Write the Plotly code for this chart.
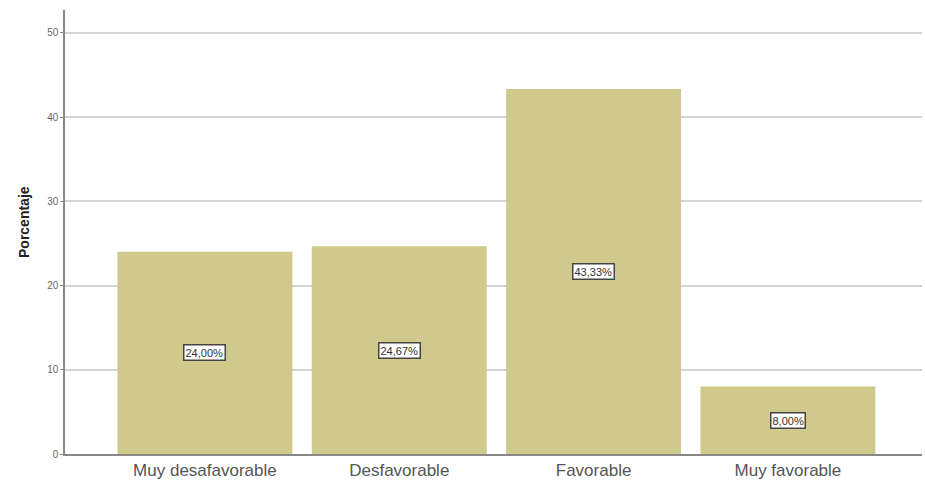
import plotly.graph_objects as go

categorias = ["Muy desafavorable", "Desfavorable", "Favorable", "Muy favorable"]
porcentajes = [24.00, 24.67, 43.33, 8.00]
etiquetas = ["24,00%", "24,67%", "43,33%", "8,00%"]

fig = go.Figure()
fig.add_trace(go.Bar(
    x=categorias,
    y=porcentajes,
    marker=dict(color="#CFC98B", line=dict(width=0)),
    hoverinfo="skip",
))

# Value labels in boxed callouts at half bar height
for cat, val, txt in zip(categorias, porcentajes, etiquetas):
    fig.add_annotation(
        x=cat, y=val / 2, text=txt, showarrow=False,
        font=dict(family="Liberation Sans, Arial", size=11, color="#333"),
        bgcolor="white", bordercolor="#444", borderwidth=1.5, borderpad=1,
    )

# Y axis title
fig.add_annotation(
    x=0, xref="paper", y=0.5, yref="paper", xshift=-51, yshift=10,
    text="<b>Porcentaje</b>", textangle=-90, showarrow=False,
    font=dict(family="Liberation Sans, Arial", size=14, color="#222"),
)

fig.update_layout(
    width=925, height=482,
    margin=dict(l=65, r=3, t=10, b=28),
    plot_bgcolor="white", paper_bgcolor="white",
    bargap=0.1,
    showlegend=False,
    font=dict(family="Liberation Sans, Arial"),
)
fig.update_xaxes(
    range=[-0.72, 3.69],
    showline=True, linecolor="#888", linewidth=1.5,
    showgrid=False,
    tickfont=dict(size=17, color="#555"),
    ticks="",
)
fig.update_yaxes(
    range=[0, 52.7],
    tickvals=[0, 10, 20, 30, 40, 50],
    showline=True, linecolor="#888", linewidth=1.5,
    showgrid=True, gridcolor="#d4d4d4", gridwidth=1.5,
    tickfont=dict(size=10, color="#666"),
    ticks="outside", ticklen=3, tickcolor="#888",
    zeroline=False,
)

fig.write_html("out.html")
